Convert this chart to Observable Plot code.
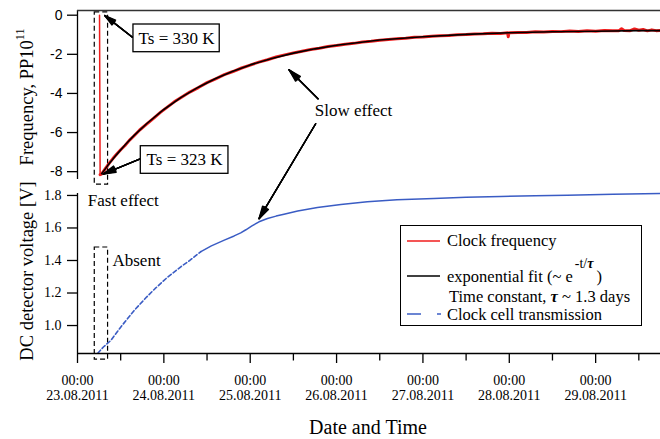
<!DOCTYPE html>
<html>
<head>
<meta charset="utf-8">
<script src="https://cdn.jsdelivr.net/npm/d3@7"></script>
<script src="https://cdn.jsdelivr.net/npm/@observablehq/plot@0.6"></script>
<style>
  html, body { margin: 0; padding: 0; background: #fff; }
  #wrap { position: relative; width: 660px; height: 439px; overflow: hidden; font-family: "Liberation Serif", "Times New Roman", serif; color: #000; }
  #wrap svg { position: absolute; left: 0; top: 0; }
  .ylab { position: absolute; white-space: nowrap; font-size: 18.5px; transform: translate(-50%, -50%) rotate(-90deg); line-height: 1; }
  .ylab sup { font-size: 12px; position: relative; top: -4px; vertical-align: top; }
  .xlab { position: absolute; white-space: nowrap; font-size: 20px; transform: translate(-50%, -50%); line-height: 1; }
  #legend { position: absolute; left: 400px; top: 225px; width: 242px; height: 101px; border: 1.3px solid #000; background: #fff; font-size: 16.5px; box-sizing: border-box; }
  #legend .row { position: absolute; white-space: nowrap; line-height: 1; transform: translateY(-50%); }
  #legend svg { position: absolute; left: 0; top: 0; }
</style>
</head>
<body>
<div id="wrap"></div>
<script>
// ---------- data (time in days since 23.08.2011 00:00) ----------
const dayTicks = [0, 1, 2, 3, 4, 5, 6];
const halfDayTicks = [0.5, 1.5, 2.5, 3.5, 4.5, 5.5, 6.5];
const tickLabels = ["00:00\n23.08.2011", "00:00\n24.08.2011", "00:00\n25.08.2011", "00:00\n26.08.2011",
                    "00:00\n27.08.2011", "00:00\n28.08.2011", "00:00\n29.08.2011"];
const freqTicks = [0, -2, -4, -6, -8];
const voltTicks = [1.0, 1.2, 1.4, 1.6, 1.8];

// Clock frequency (red), PP10^11 — the abrupt drop
const dropT = [0.255, 0.262];
const dropV = [0.00, -8.15];
// Clock frequency (red) recovery
const clockT = [0.262, 0.28, 0.30, 0.33, 0.37, 0.41, 0.45, 0.50, 0.55, 0.60, 0.65, 0.72, 0.80, 0.88, 0.96,
  1.04, 1.12, 1.20, 1.30, 1.40, 1.50, 1.60, 1.70, 1.80, 1.90, 2.00, 2.10, 2.20, 2.30, 2.40, 2.50, 2.60, 2.70,
  2.80, 2.90, 3.00, 3.10, 3.20, 3.30, 3.40, 3.50, 3.60, 3.70, 3.80, 3.90, 4.00, 4.10, 4.20, 4.30, 4.40, 4.50,
  4.60, 4.70, 4.80, 4.90, 4.98, 4.988, 4.996, 5.01, 5.10, 5.20, 5.30, 5.40, 5.50, 5.60, 5.70, 5.80, 5.90, 6.00, 6.10,
  6.20, 6.27, 6.30, 6.33, 6.40, 6.45, 6.50, 6.55, 6.60, 6.65, 6.70, 6.75];
const clockV = [-8.15, -8.12, -7.98, -7.80, -7.55, -7.33, -7.12, -6.88, -6.66, -6.40, -6.19, -5.87, -5.57, -5.27, -4.97,
  -4.70, -4.43, -4.21, -3.93, -3.70, -3.45, -3.25, -3.04, -2.88, -2.70, -2.55, -2.40, -2.28, -2.14, -2.03, -1.93, -1.84, -1.75,
  -1.69, -1.60, -1.55, -1.48, -1.44, -1.37, -1.33, -1.28, -1.24, -1.20, -1.18, -1.13, -1.11, -1.08, -1.05, -1.04, -1.00, -0.99,
  -0.96, -0.95, -0.92, -0.93, -0.90, -1.10, -0.91, -0.90, -0.89, -0.88, -0.85, -0.86, -0.83, -0.84, -0.81, -0.83, -0.79, -0.82, -0.78,
  -0.80, -0.79, -0.69, -0.78, -0.79, -0.70, -0.77, -0.73, -0.80, -0.75, -0.79, -0.78];

// Exponential fit (black)
const fitT = [0.28, 0.35, 0.45, 0.55, 0.65, 0.80, 1.00, 1.20, 1.40, 1.60, 1.80, 2.00, 2.25, 2.50, 2.75, 3.00,
  3.50, 4.00, 4.50, 5.00, 5.50, 6.00, 6.50, 6.75];
const fitV = [-8.10, -7.69, -7.14, -6.64, -6.17, -5.55, -4.82, -4.20, -3.68, -3.24, -2.87, -2.54, -2.21, -1.94, -1.72, -1.54,
  -1.27, -1.10, -0.98, -0.90, -0.85, -0.82, -0.79, -0.79];

// Clock cell transmission (blue), DC detector voltage [V]
const cellT = [0.235, 0.30, 0.385, 0.50, 0.655, 0.80, 0.90, 1.042, 1.20, 1.30, 1.429, 1.55, 1.70, 1.814, 1.89, 1.95,
  2.02, 2.102, 2.20, 2.30, 2.391, 2.55, 2.778, 3.05, 3.356, 3.70, 4.127, 4.50, 4.899, 5.30, 5.671, 6.20, 6.751];
const cellV = [0.83, 0.868, 0.908, 0.99, 1.092, 1.175, 1.228, 1.297, 1.363, 1.40, 1.455, 1.49, 1.525, 1.551, 1.570, 1.589,
  1.613, 1.638, 1.658, 1.673, 1.685, 1.705, 1.726, 1.745, 1.761, 1.773, 1.782, 1.789, 1.794, 1.798, 1.802, 1.807, 1.812];

// ---------- annotations (data units) ----------
const topArrows = [
  {x1: 0.636, y1: -1.125, x2: 0.316, y2: -0.02},
  {x1: 0.733, y1: -7.33, x2: 0.297, y2: -8.12},
  {x1: 2.785, y1: -4.27, x2: 2.449, y2: -2.79}
];
const bottomArrows = [{x1: 2.758, y1: 2.241, x2: 2.102, y2: 1.657}];
const tsBoxes = [
  {x1: 0.648, x2: 1.647, y1: -0.476, y2: -1.892, tx: 1.147, ty: -1.181, label: "Ts = 330 K"},
  {x1: 0.733, x2: 1.748, y1: -6.698, y2: -8.109, tx: 1.240, ty: -7.403, label: "Ts = 323 K"}
];
const topDashBox = [{x1: 0.20, x2: 0.354, y1: 0.14, y2: -8.66}];
const bottomDashBox = [{x1: 0.20, x2: 0.354, y1: 1.48, y2: 0.79}];
const topNotes = [{x: 2.747, y: -4.87, label: "Slow effect"}];
const bottomNotes = [{x: 0.119, y: 1.769, label: "Fast effect"}, {x: 0.405, y: 1.40, label: "Absent"}];

const xDomain = [0, 6.751];
const freqDomain = [-8.4, 0.24];
const voltDomain = [0.828, 1.812];

const drop = dropT.map((t, i) => ({t, v: dropV[i]}));
const clock = clockT.map((t, i) => ({t, v: clockV[i]}));
const fit = fitT.map((t, i) => ({t, v: fitV[i]}));
const cell = cellT.map((t, i) => ({t, v: cellV[i]}));

const SERIF = "Liberation Serif";
const SANS = "Liberation Sans";
const BLUE = "#3a5cc4";
const RED = "#f01c1c";

function arrowMarks(data) {
  return [30, 22, 14, 6].map(a => Plot.arrow(data, {
    x1: "x1", y1: "y1", x2: "x2", y2: "y2",
    stroke: "black", strokeWidth: 1.4, headLength: 14, headAngle: a
  }));
}

// ---------- bottom panel ----------
const bottom = Plot.plot({
  width: 660, height: 439,
  marginTop: 193, marginBottom: 86, marginLeft: 77, marginRight: 0,
  style: {background: "transparent", overflow: "visible", fontFamily: SERIF, fontSize: "14px", color: "#000"},
  x: {type: "linear", domain: xDomain, label: null},
  y: {type: "linear", domain: voltDomain, label: null},
  marks: [
    Plot.rect(bottomDashBox, {x1: "x1", x2: "x2", y1: "y1", y2: "y2", fill: "none", stroke: "black", strokeWidth: 1.2, strokeDasharray: "5,3"}),
    Plot.line(cell.filter(d => d.t <= 1.43), {x: "t", y: "v", stroke: BLUE, strokeWidth: 1.6, strokeDasharray: "4,2.5"}),
    Plot.line(cell.filter(d => d.t >= 1.429), {x: "t", y: "v", stroke: BLUE, strokeWidth: 1.5}),
    ...arrowMarks(bottomArrows),
    Plot.text(bottomNotes, {x: "x", y: "y", text: "label", textAnchor: "start", fontFamily: SERIF, fontSize: 17, fill: "black"}),
    Plot.ruleX([0], {stroke: "black", strokeWidth: 1.3}),
    Plot.ruleY([voltDomain[0]], {stroke: "black", strokeWidth: 1.3}),
    Plot.axisY(voltTicks, {tickSize: 10, tickPadding: 6, tickFormat: d => d.toFixed(1), fontFamily: SERIF, fontSize: 14, strokeWidth: 1.3, label: null}),
    Plot.axisX(dayTicks, {tickSize: 10, tickPadding: 10, tickFormat: i => tickLabels[i], fontFamily: SERIF, fontSize: 14, lineHeight: 1.12, strokeWidth: 1.3, label: null}),
    Plot.axisX(halfDayTicks, {tickSize: 7.5, tickFormat: () => "", strokeWidth: 1.3, label: null})
  ]
});
// force serif typeface on every text of the lower panel
d3.select(bottom).selectAll("g, text, tspan")
  .attr("font-family", SERIF)
  .style("font-family", `"${SERIF}", serif`);

// ---------- top panel ----------
const topPlot = Plot.plot({
  width: 660, height: 439,
  marginTop: 10, marginBottom: 260, marginLeft: 77, marginRight: 0,
  style: {background: "transparent", overflow: "visible", fontFamily: SANS, fontSize: "14px", color: "#000"},
  x: {type: "linear", domain: xDomain, axis: null, label: null},
  y: {type: "linear", domain: freqDomain, label: null},
  marks: [
    Plot.rect(topDashBox, {x1: "x1", x2: "x2", y1: "y1", y2: "y2", fill: "none", stroke: "black", strokeWidth: 1.2, strokeDasharray: "5,3"}),
    Plot.line(drop, {x: "t", y: "v", stroke: RED, strokeWidth: 1.5}),
    Plot.line(clock, {x: "t", y: "v", stroke: RED, strokeWidth: 3}),
    Plot.line(fit, {x: "t", y: "v", stroke: "black", strokeWidth: 1.6}),
    ...arrowMarks(topArrows),
    Plot.rect(tsBoxes, {x1: "x1", x2: "x2", y1: "y1", y2: "y2", fill: "white", stroke: "black", strokeWidth: 1.3}),
    Plot.text(tsBoxes, {x: "tx", y: "ty", text: "label", fontFamily: SERIF, fontSize: 17, fill: "black"}),
    Plot.text(topNotes, {x: "x", y: "y", text: "label", textAnchor: "start", fontFamily: SERIF, fontSize: 17, fill: "black"}),
    Plot.ruleX([0], {stroke: "black", strokeWidth: 1.3}),
    Plot.ruleY([freqDomain[1]], {stroke: "#333", strokeWidth: 1.3}),
    Plot.axisY(freqTicks, {tickSize: 10, tickPadding: 5, tickFormat: d => String(d), fontFamily: SANS, fontSize: 14, strokeWidth: 1.3, label: null})
  ]
});

const wrap = document.getElementById("wrap");
wrap.appendChild(bottom);
wrap.appendChild(topPlot);

// axis titles
const yl1 = document.createElement("div");
yl1.className = "ylab";
yl1.style.left = "27px"; yl1.style.top = "97px";
yl1.innerHTML = "Frequency, PP10<sup>11</sup>";
wrap.appendChild(yl1);

const yl2 = document.createElement("div");
yl2.className = "ylab";
yl2.style.left = "27px"; yl2.style.top = "271px";
yl2.textContent = "DC detector voltage [V]";
wrap.appendChild(yl2);

const xl = document.createElement("div");
xl.className = "xlab";
xl.style.left = "368px"; xl.style.top = "427px";
xl.textContent = "Date and Time";
wrap.appendChild(xl);

// legend
const legendItems = ["Clock frequency", "exponential fit (~ e", "Time constant, ", "Clock cell transmission"];
const lg = document.createElement("div");
lg.id = "legend";
lg.innerHTML = `
<svg width="242" height="101">
  <line x1="6" x2="39" y1="15" y2="15" stroke="${RED}" stroke-width="1.5"/>
  <line x1="6" x2="39" y1="50" y2="50" stroke="black" stroke-width="1.5"/>
  <line x1="6" x2="20" y1="88" y2="88" stroke="${BLUE}" stroke-width="1.5"/>
  <line x1="36" x2="40" y1="88" y2="88" stroke="${BLUE}" stroke-width="1.5"/>
</svg>
<div class="row" style="left:46px; top:15px;">${legendItems[0]}</div>
<div class="row" style="left:46px; top:51px;">${legendItems[1]}<span style="position:relative; top:-14px; font-size:14px; margin-left:2px;">-t/<b><i>τ</i></b></span><span style="margin-left:3px;">)</span></div>
<div class="row" style="left:48px; top:71px;">${legendItems[2]}<b><i>τ</i></b> ~ 1.3 days</div>
<div class="row" style="left:46px; top:89px;">${legendItems[3]}</div>
`;
wrap.appendChild(lg);
</script>
</body>
</html>
